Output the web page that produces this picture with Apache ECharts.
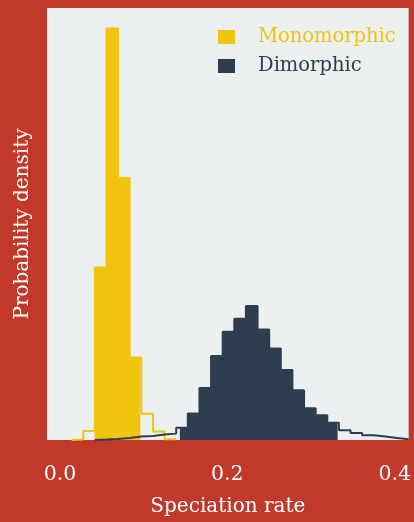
<!DOCTYPE html>
<html>
<head>
<meta charset="utf-8">
<script src="https://cdn.jsdelivr.net/npm/echarts@6/dist/echarts.min.js"></script>
<style>
html,body{margin:0;padding:0;background:#c0392b;}
#chart{width:414px;height:522px;}
</style>
</head>
<body>
<div id="chart"></div>
<script>
// Histogram bins share one grid: edge k = k * binWidth
const binWidth = 0.013889;
const xTicks = [0, 0.2, 0.4];
const seriesNames = ['Monomorphic', 'Dimorphic'];

// Monomorphic: densities for bins starting at bin index 1
const monoFirstBin = 1;
const monoDensity = [0.04, 0.66, 12.72, 30.33, 19.32, 6.09, 1.94, 0.62, 0.05];
const monoInterval = [0.0413, 0.0960];   // shaded (credible) range

// Dimorphic: densities for bins starting at bin index 3
const dimoFirstBin = 3;
const dimoDensity = [0.03, 0.07, 0.15, 0.25, 0.29, 0.40, 0.47, 0.91, 1.96, 3.84,
                     6.19, 7.98, 8.93, 9.87, 8.15, 6.75, 5.16, 3.66, 2.34, 1.82,
                     1.28, 0.71, 0.51, 0.35, 0.25, 0.15, 0.05];
const dimoInterval = [0.1433, 0.3318];

const colors = ['#f1c40f', '#2c3e50'];
const FONT = 'DejaVu Serif';

function edge(k){ return k * binWidth; }

function outlinePoints(first, vals){
  const pts = [[edge(first), 0]];
  vals.forEach((v, i) => {
    pts.push([edge(first + i), v]);
    pts.push([edge(first + i + 1), v]);
  });
  pts.push([edge(first + vals.length), 0]);
  return pts;
}

function fillPoints(first, vals, lo, hi){
  const pts = [[lo, 0]];
  vals.forEach((v, i) => {
    const a = edge(first + i), b = edge(first + i + 1);
    if (b <= lo || a >= hi) return;
    pts.push([Math.max(a, lo), v]);
    pts.push([Math.min(b, hi), v]);
  });
  pts.push([hi, 0]);
  return pts;
}

const groups = [
  {name: seriesNames[0], first: monoFirstBin, vals: monoDensity, iv: monoInterval, color: colors[0]},
  {name: seriesNames[1], first: dimoFirstBin, vals: dimoDensity, iv: dimoInterval, color: colors[1]}
];

const series = [];
groups.forEach((g, gi) => {
  series.push({
    name: g.name, type: 'line', symbol: 'none', silent: true, animation: false,
    z: 2 + gi,
    data: fillPoints(g.first, g.vals, g.iv[0], g.iv[1]),
    lineStyle: {width: 0, opacity: 0},
    itemStyle: {color: g.color},
    areaStyle: {color: g.color, opacity: 1}
  });
});
groups.forEach((g, gi) => {
  series.push({
    name: g.name, type: 'line', symbol: 'none', silent: true, animation: false,
    z: 5 + gi,
    data: outlinePoints(g.first, g.vals),
    lineStyle: {width: 2, color: g.color},
    itemStyle: {color: g.color}
  });
});

const chart = echarts.init(document.getElementById('chart'), null, {renderer: 'canvas'});
chart.setOption({
  backgroundColor: '#c0392b',
  animation: false,
  grid: {left: 47, right: 5, top: 8, bottom: 81, show: true, backgroundColor: '#ecf0f1', borderWidth: 0},
  legend: {
    orient: 'vertical', left: 213, top: 21, itemWidth: 17, itemHeight: 14, itemGap: 7,
    icon: 'rect', selectedMode: false,
    textStyle: {fontFamily: FONT, fontSize: 19.5, lineHeight: 22, padding: [0, 0, 0, 18]},
    data: groups.map(g => ({name: g.name, itemStyle: {color: g.color}, textStyle: {color: g.color}}))
  },
  xAxis: {
    type: 'value', min: -0.0155, max: 0.41667,
    axisLine: {show: false}, axisTick: {show: false}, splitLine: {show: false},
    axisLabel: {
      customValues: xTicks, color: '#ffffff', fontFamily: FONT, fontSize: 20.5, margin: 24,
      formatter: v => v.toFixed(1), showMinLabel: true, showMaxLabel: true
    },
    name: 'Speciation rate', nameLocation: 'middle', nameGap: 57,
    nameTextStyle: {color: '#ffffff', fontFamily: FONT, fontSize: 20}
  },
  yAxis: {
    type: 'value', min: 0, max: v => v.max * 1.05,
    axisLine: {show: false}, axisTick: {show: false}, splitLine: {show: false}, axisLabel: {show: false},
    name: 'Probability density', nameLocation: 'middle', nameGap: 14, nameRotate: 90,
    nameTextStyle: {color: '#ffffff', fontFamily: FONT, fontSize: 20}
  },
  series: series
});
</script>
</body>
</html>
